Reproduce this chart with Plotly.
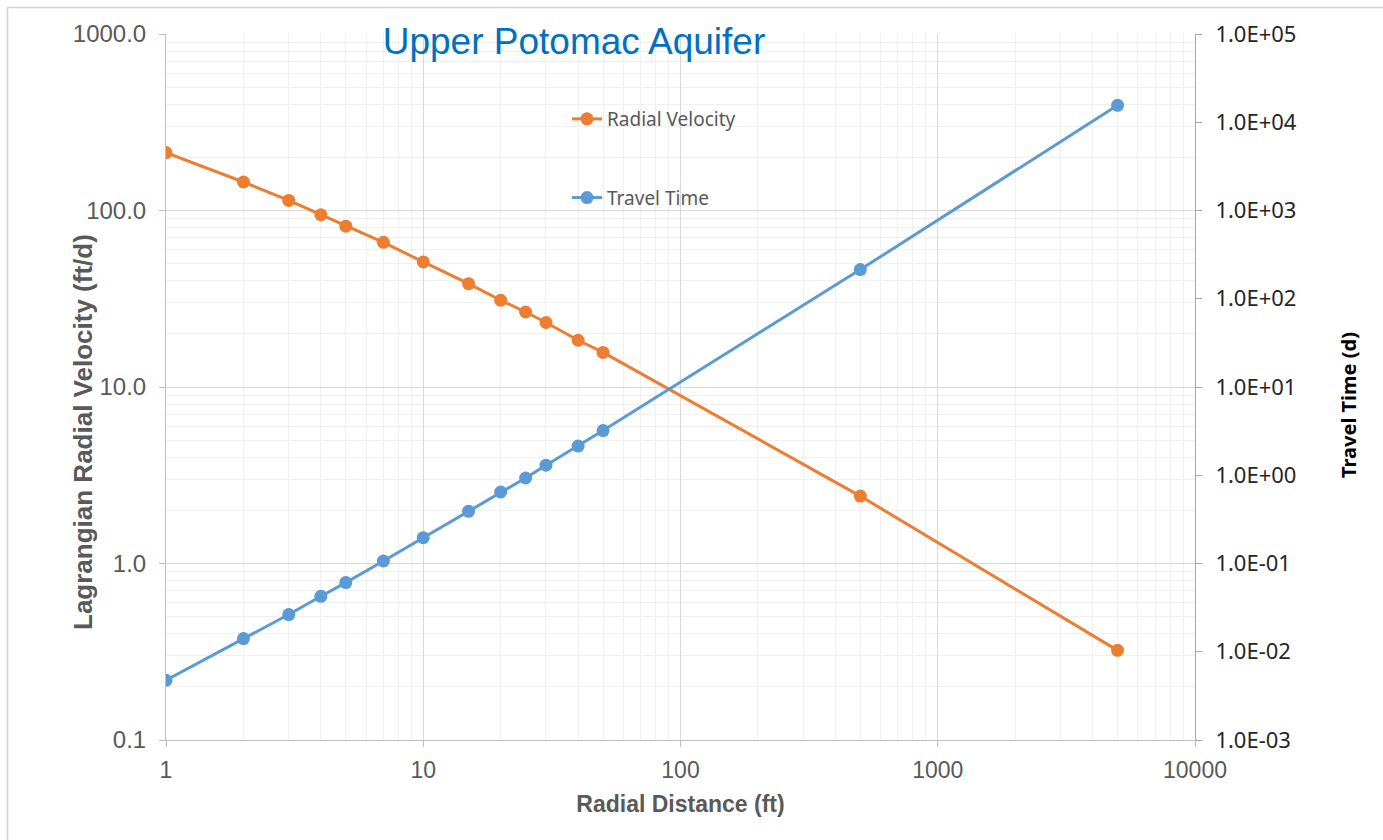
import plotly.graph_objects as go

# ---- data ----
radial_distance_ft = [1, 2, 3, 4, 5, 7, 10, 15, 20, 25, 30, 40, 50, 500, 5000]
radial_velocity_ftd = [213, 145, 114, 94.6, 81.5, 66, 51.1, 38.5, 31.0, 26.6, 23.2, 18.4, 15.7, 2.41, 0.322]
travel_time_d = [0.00475, 0.0141, 0.0264, 0.0425, 0.0608, 0.1067, 0.196, 0.390, 0.646, 0.931,
                 1.30, 2.14, 3.21, 214, 15560]
y2_tick_vals = [1e-3, 1e-2, 1e-1, 1e0, 1e1, 1e2, 1e3, 1e4, 1e5]
y2_tick_text = ["1.0E-03", "1.0E-02", "1.0E-01", "1.0E+00", "1.0E+01",
                "1.0E+02", "1.0E+03", "1.0E+04", "1.0E+05"]

ORANGE = "#ED7D31"
BLUE = "#5B9BD5"
GRID = "#D9D9D9"
MINOR = "#F0F0F0"
TXT = "#595959"

fig = go.Figure()
fig.add_trace(go.Scatter(
    x=radial_distance_ft, y=radial_velocity_ftd, name="Radial Velocity",
    mode="lines+markers", line=dict(color=ORANGE, width=3),
    marker=dict(color=ORANGE, size=13), legendgroup="a", yaxis="y"))
fig.add_trace(go.Scatter(
    x=radial_distance_ft, y=travel_time_d, name="Travel Time",
    mode="lines+markers", line=dict(color=BLUE, width=3),
    marker=dict(color=BLUE, size=13), legendgroup="b", yaxis="y2"))

L, R, T, B = 166, 188, 34, 100
W, H = 1383, 840
pw, ph = W - L - R, H - T - B


def px2x(px):
    return (px - L) / pw


def py2y(py):
    return (H - B - py) / ph


fig.update_layout(
    width=W, height=H,
    margin=dict(l=L, r=R, t=T, b=B, autoexpand=False),
    paper_bgcolor="white", plot_bgcolor="white",
    title=dict(text="Upper Potomac Aquifer",
               font=dict(family="Liberation Sans, Arial", size=37, color="#0070C0"),
               x=px2x(574), xref="paper", xanchor="center",
               y=1 - 41 / H, yref="container", yanchor="middle"),
    xaxis=dict(type="log", range=[0, 4], tickmode="linear", tick0=0, dtick=1,
               tickformat="d", showgrid=True, gridcolor=GRID, gridwidth=1,
               minor=dict(showgrid=True, gridcolor=MINOR, dtick="D1", ticks=""),
               showline=True, linecolor="#BFBFBF", linewidth=1,
               ticks="outside", ticklen=6, tickcolor="#BFBFBF",
               tickfont=dict(family="Liberation Sans, Arial", size=23, color=TXT),
               ticklabelstandoff=3,
               zeroline=False,
               title=dict(text="<b>Radial Distance (ft)</b>", standoff=14,
                          font=dict(family="Liberation Sans, Arial", size=23, color=TXT))),
    yaxis=dict(type="log", range=[-1, 3], tickmode="linear", tick0=0, dtick=1,
               tickformat=".1f", showgrid=True, gridcolor=GRID, gridwidth=1,
               minor=dict(showgrid=True, gridcolor=MINOR, dtick="D1", ticks=""),
               showline=True, linecolor="#BFBFBF", linewidth=1,
               ticks="outside", ticklen=6, tickcolor="#BFBFBF",
               tickfont=dict(family="Liberation Sans, Arial", size=24, color=TXT),
               ticklabelstandoff=8,
               zeroline=False),
    yaxis2=dict(type="log", range=[-3, 5], overlaying="y", side="right",
                tickmode="array", tickvals=y2_tick_vals, ticktext=y2_tick_text,
                showgrid=False, showline=True, linecolor="#A6A6A6", linewidth=1,
                ticks="outside", ticklen=6, tickcolor="#A6A6A6",
                tickfont=dict(family="Noto Sans", size=22, color="#262626"),
                ticklabelstandoff=9,
                zeroline=False),
    legend=dict(x=px2x(567), xanchor="left", y=py2y(100), yanchor="top",
                bgcolor="rgba(0,0,0,0)", tracegroupgap=51,
                font=dict(family="Noto Sans", size=19, color=TXT)),
    showlegend=True,
)

fig.add_annotation(text="<b>Lagrangian Radial Velocity (ft/d)</b>", textangle=-90,
                   xref="paper", yref="paper", x=px2x(83), y=py2y(432),
                   xanchor="center", yanchor="middle", showarrow=False,
                   font=dict(family="Liberation Sans, Arial", size=26, color=TXT))
fig.add_annotation(text="<b>Travel Time (d)</b>", textangle=-90,
                   xref="paper", yref="paper", x=px2x(1348), y=py2y(405),
                   xanchor="center", yanchor="middle", showarrow=False,
                   font=dict(family="Noto Sans", size=20, color="#000000"))

# legend panel (white box covering the grid) and outer chart border
fig.add_shape(type="rect", xref="paper", yref="paper", layer="between",
              x0=px2x(489), x1=px2x(803), y0=py2y(237), y1=py2y(78),
              fillcolor="white", line=dict(width=0))
fig.add_shape(type="rect", xref="paper", yref="paper", layer="above",
              x0=px2x(7.5), x1=px2x(1400), y0=py2y(860), y1=py2y(7.5),
              fillcolor="rgba(0,0,0,0)", line=dict(color="#D4D4D4", width=1.5))

fig.write_html("out.html")
